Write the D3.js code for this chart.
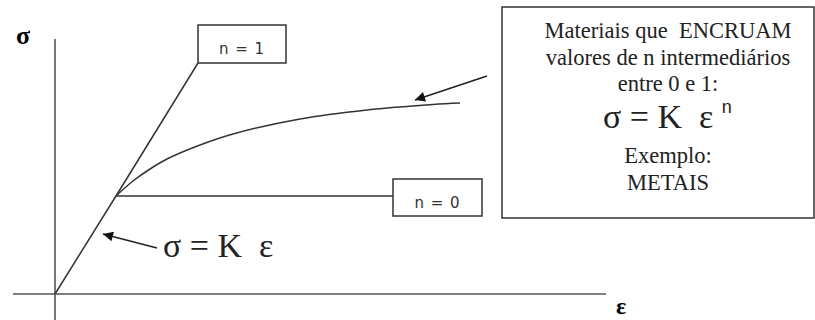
<!DOCTYPE html>
<html>
<head>
<meta charset="utf-8">
<script src="https://cdn.jsdelivr.net/npm/d3@7"></script>
<style>
  body { margin: 0; background: #fff; }
  svg { display: block; }
  text { white-space: pre; }
</style>
</head>
<body>
<div id="container"></div>
<script>
/* DATA (strain, stress in arbitrary units) */
const elasticLine = [[0, 0], [12.2, 19.6], [28.6, 46.2]];          // n = 1
const perfectlyPlastic = [[12.2, 19.6], [67.6, 19.6]];             // n = 0
const hardeningCurve = [[12.2, 19.6], [15.6, 22.6], [19, 25], [22.4, 27], [29, 29.8],
  [35.6, 32], [49, 35], [62.4, 36.8], [75.6, 37.9], [81, 38.2]];   // 0 < n < 1
const axisX = [-8.4, 110.2];
const axisY = [-5.2, 51];
const boxLines = ["Materiais que  ENCRUAM", "valores de n intermediários", "entre 0 e 1:"];
const boxLines2 = ["Exemplo:", "METAIS"];

/* CONSTANTS */
const width = 815, height = 320;

const xScale = d3.scaleLinear().domain([0, 110]).range([55, 605]);
const yScale = d3.scaleLinear().domain([0, 51]).range([294, 39]);

const svg = d3.select("#container")
  .append("svg")
  .attr("width", width)
  .attr("height", height);

svg.append("defs").append("marker")
  .attr("id", "head")
  .attr("viewBox", "0 0 10 10")
  .attr("refX", 10).attr("refY", 5)
  .attr("markerWidth", 14).attr("markerHeight", 10)
  .attr("markerUnits", "userSpaceOnUse")
  .attr("orient", "auto")
  .append("path")
  .attr("d", "M0,0 L10,5 L0,10 Z")
  .attr("fill", "#111");

const ink = "#333";

// axes
svg.append("line")
  .attr("x1", xScale(axisX[0])).attr("x2", xScale(axisX[1]))
  .attr("y1", yScale(0)).attr("y2", yScale(0))
  .attr("stroke", "#555").attr("stroke-width", 1.6);
svg.append("line")
  .attr("x1", xScale(0)).attr("x2", xScale(0))
  .attr("y1", yScale(axisY[0])).attr("y2", yScale(axisY[1]))
  .attr("stroke", "#555").attr("stroke-width", 1.6);

svg.append("text").text("σ")
  .attr("x", 16).attr("y", 44)
  .attr("font-family", "Liberation Serif").attr("font-weight", "bold")
  .attr("font-size", 26).attr("fill", "#000");
svg.append("text").text("ε")
  .attr("x", 616).attr("y", 314)
  .attr("font-family", "Liberation Serif").attr("font-weight", "bold")
  .attr("font-size", 24).attr("fill", "#000");

// curves
const line = d3.line().x(d => xScale(d[0])).y(d => yScale(d[1]));
[elasticLine, perfectlyPlastic].forEach(pts => {
  svg.append("path").attr("d", line(pts))
    .attr("fill", "none").attr("stroke", ink).attr("stroke-width", 1.5);
});
svg.append("path").attr("d", line.curve(d3.curveCatmullRom)(hardeningCurve))
  .attr("fill", "none").attr("stroke", ink).attr("stroke-width", 1.5);

// n label boxes
const nBoxes = [
  { label: "n = 1", x: 198, y: 25, w: 88, h: 38 },
  { label: "n = 0", x: 393, y: 179, w: 89, h: 37 }
];
nBoxes.forEach(b => {
  svg.append("rect")
    .attr("x", b.x).attr("y", b.y).attr("width", b.w).attr("height", b.h)
    .attr("fill", "#fff").attr("stroke", ink).attr("stroke-width", 1.5);
  svg.append("text").text(b.label)
    .attr("x", b.x + b.w / 2).attr("y", b.y + 29)
    .attr("text-anchor", "middle")
    .attr("font-family", "DejaVu Sans").attr("font-size", 15)
    .attr("letter-spacing", 1)
    .attr("fill", "#333");
});

// arrows
const arrows = [
  { from: [20.4, 9.2], to: [9.6, 12] },
  { from: [86.4, 43.6], to: [72, 38.8] }
];
arrows.forEach(a => {
  svg.append("line")
    .attr("x1", xScale(a.from[0])).attr("y1", yScale(a.from[1]))
    .attr("x2", xScale(a.to[0])).attr("y2", yScale(a.to[1]))
    .attr("stroke", "#222").attr("stroke-width", 1.6)
    .attr("marker-end", "url(#head)");
});

// elastic formula
svg.append("text").text("σ = K  ε")
  .attr("x", 163).attr("y", 257)
  .attr("font-family", "Liberation Serif").attr("font-size", 34)
  .attr("fill", "#222");

// big box
svg.append("rect")
  .attr("x", 502).attr("y", 7).attr("width", 312).attr("height", 211)
  .attr("fill", "#fff").attr("stroke", ink).attr("stroke-width", 1.5);

const cx = 668;
boxLines.forEach((t, i) => {
  svg.append("text").text(t)
    .attr("x", cx).attr("y", 38 + i * 26.5)
    .attr("text-anchor", "middle")
    .attr("font-family", "Liberation Serif").attr("font-size", 22.5)
    .attr("fill", "#222");
});
const f2 = svg.append("text")
  .attr("x", 603).attr("y", 128)
  .attr("font-family", "Liberation Serif").attr("font-size", 34)
  .attr("fill", "#222");
f2.append("tspan").text("σ = K  ε ");
f2.append("tspan").text("n")
  .attr("dy", -15).attr("font-size", 18)
  .attr("font-family", "Liberation Sans");
boxLines2.forEach((t, i) => {
  svg.append("text").text(t)
    .attr("x", cx).attr("y", 163 + i * 27)
    .attr("text-anchor", "middle")
    .attr("font-family", "Liberation Serif").attr("font-size", 22.5)
    .attr("fill", "#222");
});
</script>
</body>
</html>
